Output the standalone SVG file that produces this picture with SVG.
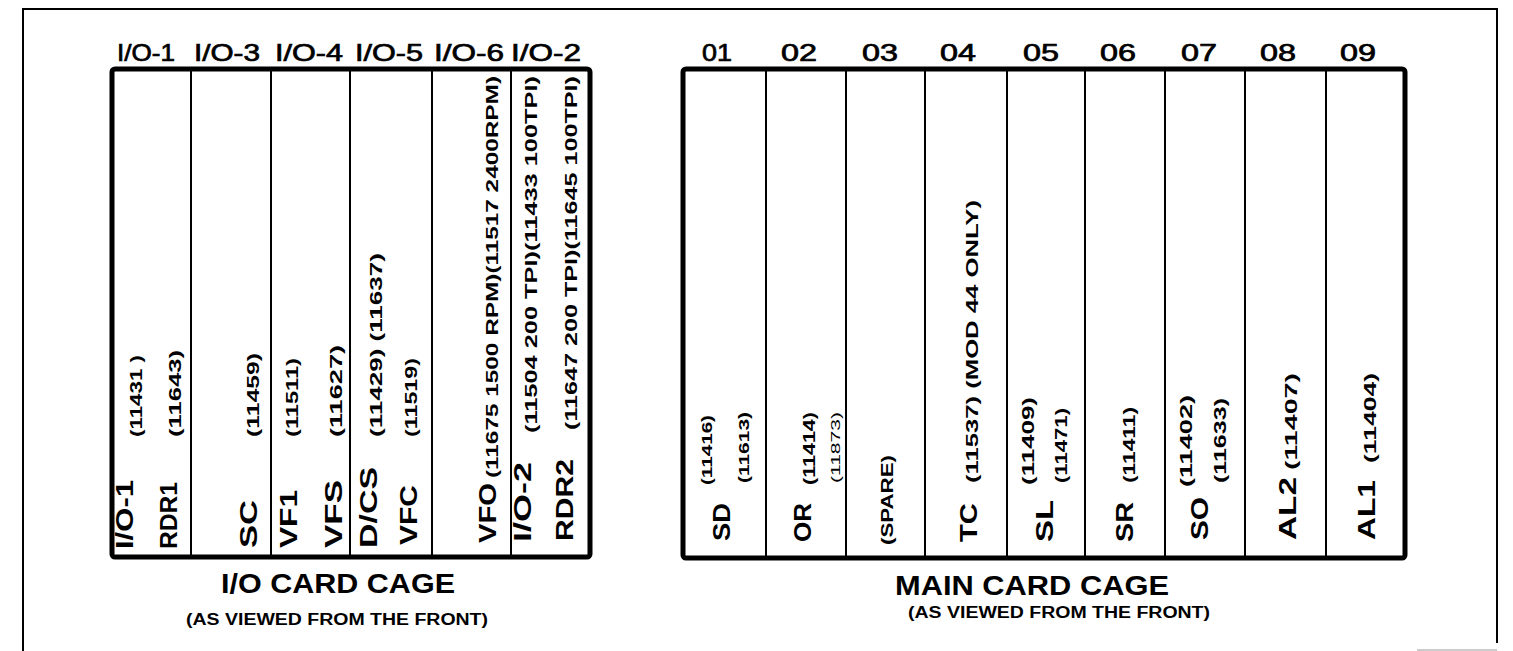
<svg xmlns="http://www.w3.org/2000/svg" width="1513" height="651" viewBox="0 0 1513 651">
<style>
text{font-family:"Liberation Sans",Arial,sans-serif;fill:#000}
.hd{font-size:24px;stroke:#000;stroke-width:0.7}
.big{font-size:23px;font-weight:bold}
.num{font-size:16px;font-weight:bold}
.sm{font-size:14px;font-weight:bold}
.thin{font-size:13px}
.cap{font-size:27px;font-weight:bold}
.sub{font-size:16px;font-weight:bold}
.cage{fill:none;stroke:#000;stroke-width:5}
.div{stroke:#000;stroke-width:2}
.frame{fill:none;stroke:#000;stroke-width:2}
</style>
<rect width="1513" height="651" fill="#fff"/>
<path class="frame" d="M23,651 V9 H1497 V643"/>
<line x1="1417" y1="650" x2="1497" y2="650" stroke="#bbb" stroke-width="1.5"/>

<g id="io-cage">
<rect class="cage" x="112" y="69" width="478" height="488" rx="3"/>
<g class="div"><line x1="191" y1="69" x2="191" y2="557"/><line x1="271" y1="69" x2="271" y2="557"/><line x1="350" y1="69" x2="350" y2="557"/><line x1="432" y1="69" x2="432" y2="557"/><line x1="511" y1="69" x2="511" y2="557"/></g>
<g class="hd" text-anchor="middle">
<text x="146" y="61" textLength="58" lengthAdjust="spacingAndGlyphs">I/O-1</text>
<text x="227" y="61" textLength="66" lengthAdjust="spacingAndGlyphs">I/O-3</text>
<text x="309" y="61" textLength="68" lengthAdjust="spacingAndGlyphs">I/O-4</text>
<text x="389" y="61" textLength="68" lengthAdjust="spacingAndGlyphs">I/O-5</text>
<text x="469" y="61" textLength="70" lengthAdjust="spacingAndGlyphs">I/O-6</text>
<text x="546" y="61" textLength="70" lengthAdjust="spacingAndGlyphs">I/O-2</text>
</g>
</g>

<g id="slot-io1">
<text class="big" transform="translate(133,549) rotate(-90)" textLength="69" lengthAdjust="spacingAndGlyphs">I/O-1</text>
<text class="num" transform="translate(142,437) rotate(-90)" textLength="82" lengthAdjust="spacingAndGlyphs">(11431 )</text>
<text class="big" transform="translate(177,549) rotate(-90)" textLength="67" lengthAdjust="spacingAndGlyphs">RDR1</text>
<text class="num" transform="translate(181,437) rotate(-90)" textLength="87" lengthAdjust="spacingAndGlyphs">(11643)</text>
</g>
<g id="slot-io3">
<text class="big" transform="translate(257,548) rotate(-90)" textLength="48" lengthAdjust="spacingAndGlyphs">SC</text>
<text class="num" transform="translate(259,437) rotate(-90)" textLength="84" lengthAdjust="spacingAndGlyphs">(11459)</text>
</g>
<g id="slot-io4">
<text class="big" transform="translate(297,548) rotate(-90)" textLength="58" lengthAdjust="spacingAndGlyphs">VF1</text>
<text class="num" transform="translate(298,437) rotate(-90)" textLength="79" lengthAdjust="spacingAndGlyphs">(11511)</text>
<text class="big" transform="translate(342,548) rotate(-90)" textLength="68" lengthAdjust="spacingAndGlyphs">VFS</text>
<text class="num" transform="translate(342,437) rotate(-90)" textLength="92" lengthAdjust="spacingAndGlyphs">(11627)</text>
</g>
<g id="slot-io5">
<text class="big" transform="translate(377,548) rotate(-90)" textLength="81" lengthAdjust="spacingAndGlyphs">D/CS</text>
<text class="num" transform="translate(382,437) rotate(-90)" textLength="184" lengthAdjust="spacingAndGlyphs">(11429) (11637)</text>
<text class="big" transform="translate(417,545) rotate(-90)" textLength="60" lengthAdjust="spacingAndGlyphs">VFC</text>
<text class="num" transform="translate(417,437) rotate(-90)" textLength="79" lengthAdjust="spacingAndGlyphs">(11519)</text>
</g>
<g id="slot-io6">
<text class="big" transform="translate(496,543) rotate(-90)" textLength="60" lengthAdjust="spacingAndGlyphs">VFO</text>
<text class="num" transform="translate(498,478) rotate(-90)" textLength="402" lengthAdjust="spacingAndGlyphs">(11675 1500 RPM)(11517 2400RPM)</text>
</g>
<g id="slot-io2">
<text class="big" transform="translate(531,542) rotate(-90)" textLength="80" lengthAdjust="spacingAndGlyphs">I/O-2</text>
<text class="num" transform="translate(537,433) rotate(-90)" textLength="357" lengthAdjust="spacingAndGlyphs">(11504  200 TPI)(11433 100TPI)</text>
<text class="big" transform="translate(573,541) rotate(-90)" textLength="82" lengthAdjust="spacingAndGlyphs">RDR2</text>
<text class="num" transform="translate(577,430) rotate(-90)" textLength="354" lengthAdjust="spacingAndGlyphs">(11647  200 TPI)(11645 100TPI)</text>
</g>

<g id="main-cage">
<rect class="cage" x="683" y="69" width="722" height="489" rx="3"/>
<g class="div"><line x1="766" y1="69" x2="766" y2="558"/><line x1="846" y1="69" x2="846" y2="558"/><line x1="925" y1="69" x2="925" y2="558"/><line x1="1007" y1="69" x2="1007" y2="558"/><line x1="1085" y1="69" x2="1085" y2="558"/><line x1="1165" y1="69" x2="1165" y2="558"/><line x1="1245" y1="69" x2="1245" y2="558"/><line x1="1326" y1="69" x2="1326" y2="558"/></g>
<g class="hd" text-anchor="middle">
<text x="717" y="61" textLength="30" lengthAdjust="spacingAndGlyphs">01</text>
<text x="799" y="61" textLength="36" lengthAdjust="spacingAndGlyphs">02</text>
<text x="880" y="61" textLength="36" lengthAdjust="spacingAndGlyphs">03</text>
<text x="958" y="61" textLength="36" lengthAdjust="spacingAndGlyphs">04</text>
<text x="1041" y="61" textLength="36" lengthAdjust="spacingAndGlyphs">05</text>
<text x="1118" y="61" textLength="36" lengthAdjust="spacingAndGlyphs">06</text>
<text x="1199" y="61" textLength="36" lengthAdjust="spacingAndGlyphs">07</text>
<text x="1278" y="61" textLength="36" lengthAdjust="spacingAndGlyphs">08</text>
<text x="1358" y="61" textLength="36" lengthAdjust="spacingAndGlyphs">09</text>
</g>
</g>

<g id="slot-01">
<text class="big" transform="translate(730,541) rotate(-90)" textLength="38" lengthAdjust="spacingAndGlyphs">SD</text>
<text class="sm" transform="translate(712,485) rotate(-90)" textLength="70" lengthAdjust="spacingAndGlyphs">(11416)</text>
<text class="sm" transform="translate(749,483) rotate(-90)" textLength="71" lengthAdjust="spacingAndGlyphs">(11613)</text>
</g>
<g id="slot-02">
<text class="big" transform="translate(811,542) rotate(-90)" textLength="39" lengthAdjust="spacingAndGlyphs">OR</text>
<text class="num" transform="translate(815,485) rotate(-90)" textLength="73" lengthAdjust="spacingAndGlyphs">(11414)</text>
<text class="thin" transform="translate(840,483) rotate(-90)" textLength="71" lengthAdjust="spacingAndGlyphs">(11873)</text>
</g>
<g id="slot-03">
<text class="num" transform="translate(893,545) rotate(-90)" textLength="90" lengthAdjust="spacingAndGlyphs">(SPARE)</text>
</g>
<g id="slot-04">
<text class="big" transform="translate(977,542) rotate(-90)" textLength="39" lengthAdjust="spacingAndGlyphs">TC</text>
<text class="num" transform="translate(978,483) rotate(-90)" textLength="283" lengthAdjust="spacingAndGlyphs">(11537) (MOD 44  ONLY)</text>
</g>
<g id="slot-05">
<text class="big" transform="translate(1053,542) rotate(-90)" textLength="42" lengthAdjust="spacingAndGlyphs">SL</text>
<text class="num" transform="translate(1034,485) rotate(-90)" textLength="88" lengthAdjust="spacingAndGlyphs">(11409)</text>
<text class="num" transform="translate(1067,483) rotate(-90)" textLength="75" lengthAdjust="spacingAndGlyphs">(11471)</text>
</g>
<g id="slot-06">
<text class="big" transform="translate(1133,542) rotate(-90)" textLength="40" lengthAdjust="spacingAndGlyphs">SR</text>
<text class="num" transform="translate(1135,483) rotate(-90)" textLength="76" lengthAdjust="spacingAndGlyphs">(11411)</text>
</g>
<g id="slot-07">
<text class="big" transform="translate(1208,540) rotate(-90)" textLength="43" lengthAdjust="spacingAndGlyphs">SO</text>
<text class="num" transform="translate(1192,487) rotate(-90)" textLength="92" lengthAdjust="spacingAndGlyphs">(11402)</text>
<text class="num" transform="translate(1226,483) rotate(-90)" textLength="85" lengthAdjust="spacingAndGlyphs">(11633)</text>
</g>
<g id="slot-08">
<text class="big" transform="translate(1296,540) rotate(-90)" textLength="63" lengthAdjust="spacingAndGlyphs">AL2</text>
<text class="num" transform="translate(1297,470) rotate(-90)" textLength="97" lengthAdjust="spacingAndGlyphs">(11407)</text>
</g>
<g id="slot-09">
<text class="big" transform="translate(1375,540) rotate(-90)" textLength="60" lengthAdjust="spacingAndGlyphs">AL1</text>
<text class="num" transform="translate(1376,463) rotate(-90)" textLength="90" lengthAdjust="spacingAndGlyphs">(11404)</text>
</g>

<g id="captions">
<text class="cap" x="338" y="593" text-anchor="middle" textLength="234" lengthAdjust="spacingAndGlyphs">I/O CARD CAGE</text>
<text class="sub" x="337" y="625" text-anchor="middle" textLength="302" lengthAdjust="spacingAndGlyphs">(AS VIEWED FROM THE FRONT)</text>
<text class="cap" x="1032" y="595" text-anchor="middle" textLength="274" lengthAdjust="spacingAndGlyphs">MAIN CARD CAGE</text>
<text class="sub" x="1059" y="618" text-anchor="middle" textLength="302" lengthAdjust="spacingAndGlyphs">(AS VIEWED FROM THE FRONT)</text>
</g>
<g id="connectors"></g>
</svg>
